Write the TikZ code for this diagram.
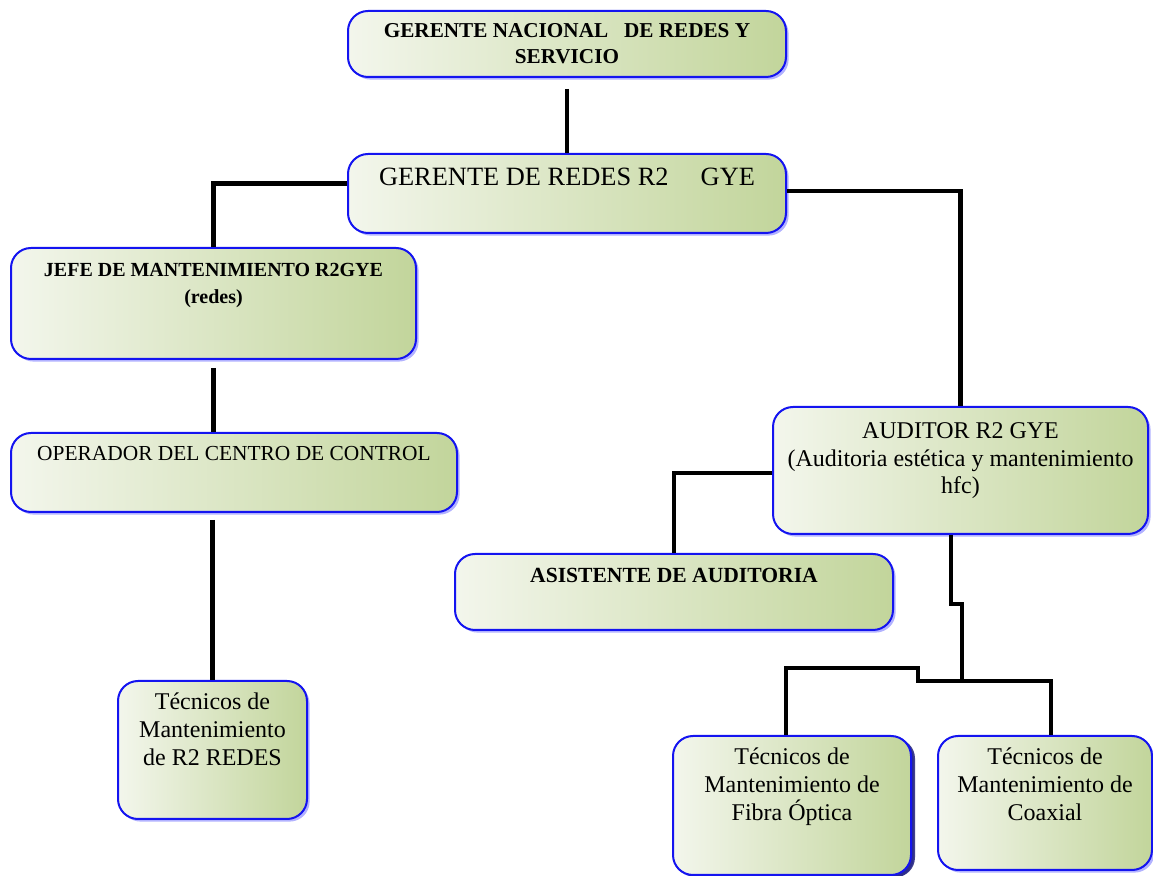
\documentclass[tikz,border=0pt]{standalone}
\usepackage{fontspec}
\setmainfont{Liberation Serif}
\usepackage{tikz}
\usetikzlibrary{
    shadows
}
\newdimen\px
\px=0.5pt
\definecolor{verdeclaro}{HTML}{F3F6EC}
\definecolor{verdeoscuro}{HTML}{C2D59B}
\definecolor{azulborde}{HTML}{1414F0}
\tikzset{
    puesto/.style={
        draw=azulborde,
        line width=1pt,
        rounded corners=10pt,
        left color=verdeclaro,
        right color=verdeoscuro,
        inner sep=0pt,
        anchor=north west,
        drop shadow={shadow xshift=1.3pt, shadow yshift=-1.3pt,
            fill=blue!55, opacity=0.55}
    },
    sombra oscura/.style={
        drop shadow={shadow xshift=2pt, shadow yshift=-1.2pt,
            fill=blue!40!black, opacity=0.75}
    },
    linea/.style={
        line width=2.4pt,
        black
    }
}

\begin{document}
\begin{tikzpicture}[
    x=0.5pt,
    y=-0.5pt
]
    \useasboundingbox (0,0) rectangle (1153,876);

    % Puestos
    \node[puesto] (gnac) at (347,10)
        {\parbox[t][66\px][t]{438\px}{\centering\vspace*{6pt}%
        \fontsize{10.6}{13}\selectfont\bfseries
        GERENTE NACIONAL\ \ \ DE REDES Y\\ SERVICIO}};

    \node[puesto] (gred) at (347,153)
        {\parbox[t][79\px][t]{438\px}{\centering\vspace*{7pt}%
        \fontsize{13.2}{16}\selectfont
        GERENTE DE REDES R2\hspace{16pt}GYE}};

    \node[puesto] (jefe) at (10,247)
        {\parbox[t][111\px][t]{405\px}{\centering\vspace*{7.5pt}%
        \fontsize{10}{13.5}\selectfont\bfseries
        JEFE DE MANTENIMIENTO R2GYE\\ (redes)}};

    \node[puesto] (oper) at (10,432)
        {\parbox[t][79\px][t]{446\px}{\centering\vspace*{6.5pt}%
        \fontsize{10.7}{13}\selectfont
        OPERADOR DEL CENTRO DE CONTROL}};

    \node[puesto] (tredes) at (117,680)
        {\parbox[t][138\px][t]{189\px}{\centering\vspace*{6pt}%
        \fontsize{12}{14}\selectfont
        Técnicos de\\ Mantenimiento\\ de R2 REDES}};

    \node[puesto] (audi) at (772,406)
        {\parbox[t][127\px][t]{375\px}{\centering\vspace*{8pt}%
        \fontsize{12}{13.75}\selectfont
        AUDITOR R2 GYE\\ (Auditoria estética y mantenimiento\\ hfc)}};

    \node[puesto] (asis) at (454,553)
        {\parbox[t][76\px][t]{438\px}{\centering\vspace*{7pt}%
        \fontsize{10.8}{13}\selectfont\bfseries
        ASISTENTE DE AUDITORIA}};

    \node[puesto, sombra oscura] (tfibra) at (672,735)
        {\parbox[t][139\px][t]{238\px}{\centering\vspace*{6pt}%
        \fontsize{12}{14}\selectfont
        Técnicos de\\ Mantenimiento de\\ Fibra Óptica}};

    \node[puesto] (tcoax) at (937,735)
        {\parbox[t][134\px][t]{214\px}{\centering\vspace*{6pt}%
        \fontsize{12}{14}\selectfont
        Técnicos de\\ Mantenimiento de\\ Coaxial}};

    % Puntos de quiebre
    \coordinate (codo)    at (962,604);
    \coordinate (union)   at (962,681);
    \coordinate (escalon) at (918,668);

    % Conexiones
    \draw[linea, shorten <=5.5pt] (gnac.south) -- (gred.north);
    \draw[linea] ([yshift=5pt]gred.west) -| (jefe.north);
    \draw[linea] ([yshift=1.25pt]gred.east) -| (audi.north);
    \draw[linea, shorten <=4pt] (jefe.south) -- (jefe.south |- oper.north);
    \draw[linea, shorten <=3.5pt]
        (tredes.north |- oper.south) -- (tredes.north);
    \draw[linea] ([yshift=-1.25pt]audi.west) -| (asis.north);
    \draw[linea] ([xshift=-4.75pt]audi.south) |- (codo) -- (union);
    \draw[linea] ([xshift=-3pt]tfibra.north) |- (escalon)
        -- (escalon |- union) -| ([xshift=3pt]tcoax.north);

\end{tikzpicture}
\end{document}
